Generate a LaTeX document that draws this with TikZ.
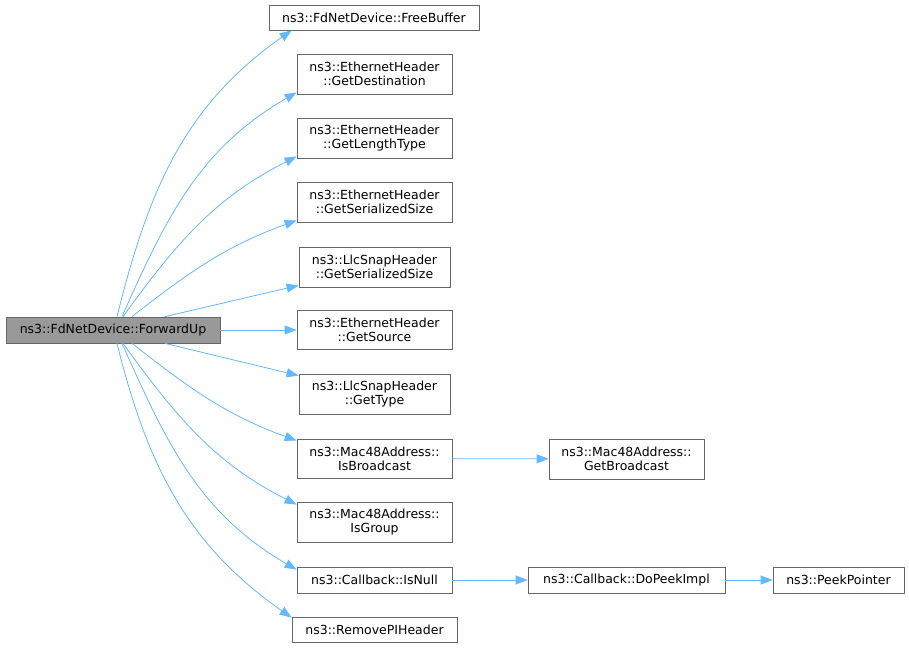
\documentclass[tikz,border=0pt]{standalone}
\usepackage{fontspec}
\setmainfont{DejaVu Sans}
\usetikzlibrary{arrows.meta}
\definecolor{edgeblue}{HTML}{63B8FF}
\definecolor{boxgray}{HTML}{666666}
\definecolor{mainfill}{HTML}{999999}
\tikzset{
  fn/.style={draw=boxgray,line width=0.8pt,fill=white,inner sep=0pt,align=center,font=\fontsize{12.5}{14}\selectfont},
  call/.style={draw=edgeblue,line width=0.8pt,-{Triangle[length=12pt,width=9pt]}}
}
\begin{document}
\begin{tikzpicture}[x=1pt,y=1pt]
   \useasboundingbox (0,0) rectangle (909,-647);
   \node[fn,fill=mainfill,minimum width=214pt,minimum height=26pt] (fwd) at (113,-330) {ns3::FdNetDevice::ForwardUp};
   \node[fn,minimum width=210pt,minimum height=25pt] (free) at (374,-17.5) {ns3::FdNetDevice::FreeBuffer};
   \node[fn,minimum width=155pt,minimum height=40pt] (dest) at (374.5,-74) {ns3::EthernetHeader\\::GetDestination};
   \node[fn,minimum width=155pt,minimum height=40pt] (ltype) at (374.5,-138) {ns3::EthernetHeader\\::GetLengthType};
   \node[fn,minimum width=155pt,minimum height=40pt] (ethsize) at (374.5,-202) {ns3::EthernetHeader\\::GetSerializedSize};
   \node[fn,minimum width=151pt,minimum height=40pt] (llcsize) at (374.5,-267) {ns3::LlcSnapHeader\\::GetSerializedSize};
   \node[fn,minimum width=155pt,minimum height=39pt] (src) at (374.5,-330) {ns3::EthernetHeader\\::GetSource};
   \node[fn,minimum width=151pt,minimum height=40pt] (llctype) at (374.5,-394) {ns3::LlcSnapHeader\\::GetType};
   \node[fn,minimum width=155pt,minimum height=39pt] (bcast) at (374.5,-458.5) {ns3::Mac48Address::\\IsBroadcast};
   \node[fn,minimum width=155pt,minimum height=40pt] (group) at (374.5,-522) {ns3::Mac48Address::\\IsGroup};
   \node[fn,minimum width=155pt,minimum height=26pt] (null) at (374.5,-580) {ns3::Callback::IsNull};
   \node[fn,minimum width=165pt,minimum height=25pt] (rmpi) at (374.5,-629.5) {ns3::RemovePIHeader};
   \node[fn,minimum width=155pt,minimum height=40pt] (getb) at (626.5,-459) {ns3::Mac48Address::\\GetBroadcast};
   \node[fn,minimum width=197pt,minimum height=26pt] (peekimpl) at (626.5,-580) {ns3::Callback::DoPeekImpl};
   \node[fn,minimum width=131pt,minimum height=26pt] (peekptr) at (838.5,-580) {ns3::PeekPointer};
   % calls from ForwardUp
   \draw[call] ([xshift=4pt]fwd.north) to[out=76,in=215] ([xshift=23pt]free.south west);
   \draw[call] ([xshift=9pt]fwd.north) to[out=66,in=210] ([yshift=2pt]dest.south west);
   \draw[call] ([xshift=10pt]fwd.north) to[out=54,in=207] ([yshift=2pt]ltype.south west);
   \draw[call] ([xshift=19pt]fwd.north) to[out=38,in=200] ([yshift=2pt]ethsize.south west);
   \draw[call] ([xshift=52pt]fwd.north) -- ([yshift=2pt]llcsize.south west);
   \draw[call] (fwd.east) -- (src.west);
   \draw[call] ([xshift=52pt]fwd.south) -- ([yshift=-2pt]llctype.north west);
   \draw[call] ([xshift=19pt]fwd.south) to[out=-38,in=160] ([yshift=-2pt]bcast.north west);
   \draw[call] ([xshift=10pt]fwd.south) to[out=-54,in=153] ([yshift=-3pt]group.north west);
   \draw[call] ([xshift=9pt]fwd.south) to[out=-66,in=150] ([yshift=-3pt]null.north west);
   \draw[call] ([xshift=4pt]fwd.south) to[out=-76,in=145] ([yshift=-1pt]rmpi.north west);
   % second level
   \draw[call] (bcast) -- (getb);
   \draw[call] (null) -- (peekimpl);
   \draw[call] (peekimpl) -- (peekptr);
\end{tikzpicture}
\end{document}
